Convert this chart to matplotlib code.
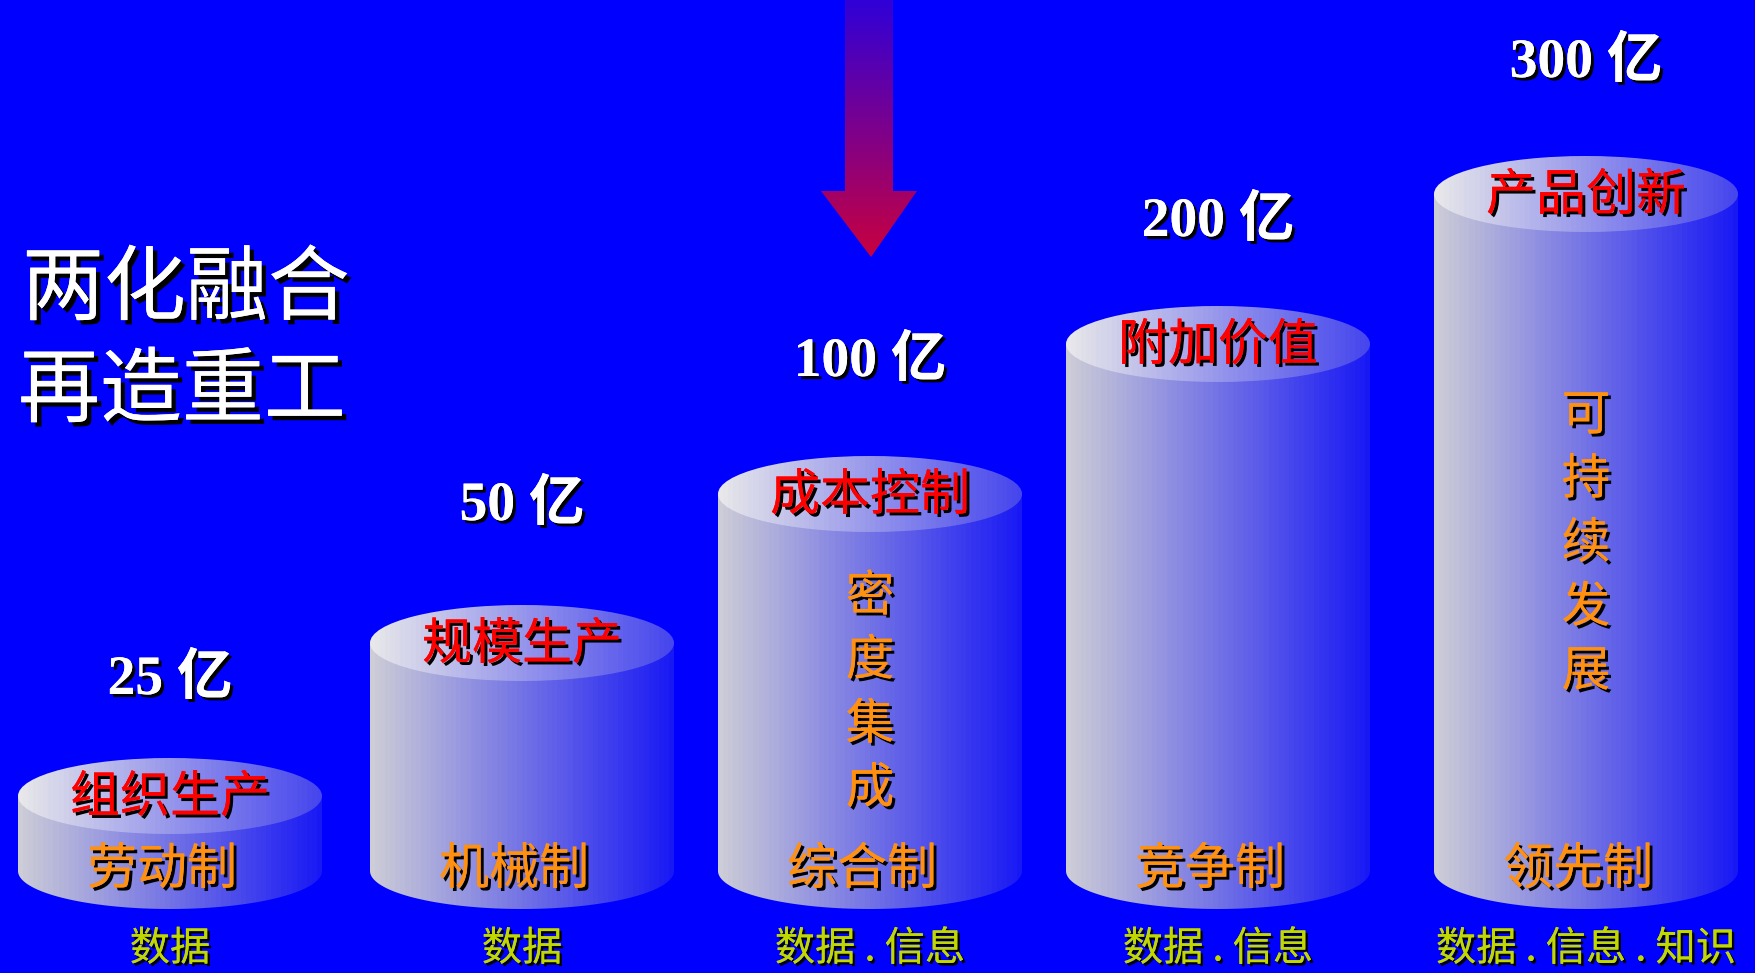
import numpy as np
import matplotlib
matplotlib.use("Agg")
import matplotlib.pyplot as plt
from matplotlib import patheffects
from matplotlib.patches import Polygon, Ellipse

plt.rcParams['font.family'] = ['Noto Sans CJK SC', 'DejaVu Sans']

# data
values = [25, 50, 100, 200, 300]
value_labels = [f"{v} 亿" for v in values]
top_labels = ["组织生产", "规模生产", "成本控制", "附加价值", "产品创新"]
base_labels = ["劳动制", "机械制", "综合制", "竞争制", "领先制"]
data_labels = ["数据", "数据", "数据 . 信息", "数据 . 信息", "数据 . 信息 . 知识"]
mid_labels = ["", "", "密度集成", "", "可持续发展"]
title_lines = ["两化融合", "再造重工"]

# layout (pixel coords of the 1756x973 canvas)
W, H = 1756, 973
col_x = [170, 522, 870, 1218, 1586]
top_y = [796, 643, 494, 344, 194]
value_y = [680, 506, 362, 222, 63]
mid_start = [0, 0, 597, 0, 416]
half_w = 152
half_h = 38
base_y = 871
BG = '#0000ff'

fig = plt.figure(figsize=(W / 100, H / 100), dpi=100)
fig.patch.set_facecolor(BG)
ax = fig.add_axes([0, 0, 1, 1])
ax.set_facecolor(BG)
ax.set_xlim(0, W)
ax.set_ylim(H, 0)
ax.axis('off')


def grad_row(c0, c1, n=60):
    t = np.linspace(0, 1, n)[:, None]
    c0 = np.array(c0) / 255.0
    c1 = np.array(c1) / 255.0
    return (c0 + (c1 - c0) * t)[None, :, :]


def shadow_text(x, y, s, size, color, weight='medium', family=None, off=2.2):
    pe = [patheffects.withSimplePatchShadow(offset=(off, -off), shadow_rgbFace='black', alpha=1.0),
          patheffects.Normal()]
    kw = {}
    if family is not None:
        kw['family'] = family
    ax.text(x, y, s, fontsize=size, color=color, fontweight=weight,
            ha='center', va='center', path_effects=pe, zorder=10, **kw)


side_grad = grad_row((205, 205, 215), (25, 25, 245))
top_grad = grad_row((232, 232, 234), (70, 70, 238))

for i, v in enumerate(values):
    cx, ty = col_x[i], top_y[i]
    s = np.linspace(0, np.pi, 80)
    bx = cx - half_w * np.cos(s)
    by = base_y + half_h * np.sin(s)
    pts = [(cx - half_w, ty)] + list(zip(bx, by)) + [(cx + half_w, ty)]
    side = Polygon(pts, closed=True, facecolor='none', edgecolor='none')
    ax.add_patch(side)
    im = ax.imshow(side_grad, extent=(cx - half_w, cx + half_w, base_y + half_h, ty),
                   aspect='auto', interpolation='nearest', zorder=2)
    im.set_clip_path(side)

    top = Ellipse((cx, ty), 2 * half_w, 2 * half_h, facecolor='none', edgecolor='none')
    ax.add_patch(top)
    im2 = ax.imshow(top_grad, extent=(cx - half_w, cx + half_w, ty + half_h, ty - half_h),
                    aspect='auto', interpolation='nearest', zorder=3)
    im2.set_clip_path(top)

    shadow_text(cx, value_y[i], value_labels[i], 40, 'white', weight='bold',
                family=['Liberation Serif', 'Noto Sans CJK SC'])
    shadow_text(cx, ty + 2, top_labels[i], 36, '#ff0000')
    shadow_text(cx - 8, 870, base_labels[i], 36, '#ff9010')
    shadow_text(cx, 949, data_labels[i], 29, '#c0d800', weight='normal', off=1.8)
    for k, ch in enumerate(mid_labels[i]):
        shadow_text(cx, mid_start[i] + k * 64, ch, 35, '#ff9010')

# title on the left
shadow_text(186, 290, title_lines[0], 59, 'white', weight='normal', off=3.2)
shadow_text(182, 392, title_lines[1], 59, 'white', weight='normal', off=3.2)

# gradient arrow
arrow_pts = [(845, 0), (893, 0), (893, 191), (917, 191), (871, 257),
             (821, 191), (845, 191)]
arrow = Polygon(arrow_pts, closed=True, facecolor='none', edgecolor='none')
ax.add_patch(arrow)
t = np.linspace(0, 1, 120)[:, None]
c0 = np.array([0x30, 0x00, 0xd8]) / 255.0
c1 = np.array([0xc8, 0x00, 0x40]) / 255.0
col = (c0 + (c1 - c0) * t)[:, None, :]
im3 = ax.imshow(col, extent=(821, 917, 257, 0), aspect='auto', interpolation='bilinear', zorder=4)
im3.set_clip_path(arrow)

ax.set_xlim(0, W)
ax.set_ylim(H, 0)
fig.savefig('out.png', dpi=100, facecolor=fig.get_facecolor())
